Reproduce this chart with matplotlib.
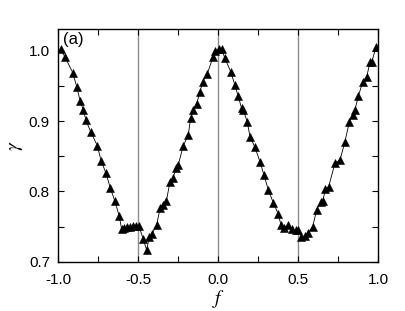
import matplotlib
matplotlib.use("Agg")
import matplotlib.pyplot as plt
from matplotlib.ticker import MultipleLocator

# flux f and gamma
f = [-0.985, -0.958, -0.910, -0.885, -0.864, -0.844, -0.827, -0.798, -0.756,
     -0.733, -0.702, -0.675, -0.646, -0.619, -0.604, -0.589, -0.571, -0.552,
     -0.533, -0.514, -0.496, -0.469, -0.448, -0.431, -0.414, -0.386, -0.364,
     -0.347, -0.324, -0.302, -0.283, -0.264, -0.250, -0.219, -0.188, -0.173,
     -0.156, -0.135, -0.114, -0.098, -0.069, -0.033, -0.021, 0.006, 0.021,
     0.042, 0.078, 0.104, 0.125, 0.146, 0.156, 0.181, 0.198, 0.229, 0.261,
     0.286, 0.313, 0.344, 0.375, 0.392, 0.412, 0.435, 0.460, 0.487, 0.500,
     0.520, 0.545, 0.560, 0.590, 0.615, 0.640, 0.653, 0.670, 0.690, 0.729,
     0.761, 0.792, 0.819, 0.840, 0.854, 0.875, 0.903, 0.928, 0.948, 0.959,
     0.986]
gamma = [1.002, 0.991, 0.969, 0.949, 0.929, 0.916, 0.901, 0.885, 0.865,
         0.844, 0.826, 0.805, 0.786, 0.765, 0.746, 0.748, 0.750, 0.750,
         0.751, 0.751, 0.751, 0.732, 0.717, 0.735, 0.740, 0.752, 0.776,
         0.781, 0.787, 0.814, 0.819, 0.833, 0.838, 0.865, 0.880, 0.904,
         0.916, 0.925, 0.942, 0.956, 0.967, 0.991, 1.000, 1.002, 1.002,
         0.989, 0.970, 0.951, 0.935, 0.918, 0.916, 0.899, 0.878, 0.863, 0.842,
         0.823, 0.802, 0.784, 0.768, 0.752, 0.748, 0.752, 0.746, 0.745, 0.745,
         0.736, 0.737, 0.741, 0.750, 0.774, 0.785, 0.787, 0.803, 0.807, 0.840,
         0.845, 0.871, 0.899, 0.909, 0.916, 0.935, 0.956, 0.963, 0.984, 0.984,
         1.005]
vlines = [-0.5, 0.0, 0.5]

plt.rcParams["font.family"] = ["Liberation Sans", "DejaVu Sans"]
plt.rcParams["mathtext.fontset"] = "stix"

fig = plt.figure(figsize=(4.05, 3.11), dpi=100)
ax = fig.add_axes([0.144, 0.158, 0.790, 0.749])

for v in vlines:
    ax.axvline(v, color="#8c8c8c", lw=1.0, zorder=1)

ax.plot(f, gamma, color="black", lw=0.6, marker="^", ms=5.2,
        markeredgewidth=0.4, zorder=3)

ax.set_xlim(-1.0, 1.0)
ax.set_ylim(0.7, 1.031)
ax.xaxis.set_minor_locator(MultipleLocator(0.25))
ax.yaxis.set_minor_locator(MultipleLocator(0.05))
ax.set_xticks([-1.0, -0.5, 0.0, 0.5, 1.0])
ax.set_xticklabels(["-1.0", "-0.5", "0.0", "0.5", "1.0"])
ax.set_yticks([0.7, 0.8, 0.9, 1.0])
ax.set_yticklabels(["0.7", "0.8", "0.9", "1.0"])
ax.tick_params(which="both", direction="in", top=True, right=True,
               labelsize=11, width=0.8)
ax.tick_params(which="major", length=4.5)
ax.tick_params(which="minor", length=4.0)
ax.tick_params(axis="x", which="major", pad=8)
ax.tick_params(axis="y", which="major", pad=6)
for s in ax.spines.values():
    s.set_linewidth(1.0)

ax.set_xlabel("$f$", fontsize=14, labelpad=1)
ax.set_ylabel(r"$\gamma$", fontsize=14, labelpad=3, rotation=90)
ax.text(0.015, 0.985, "(a)", transform=ax.transAxes, fontsize=12,
        ha="left", va="top")

fig.savefig("out.png", dpi=100)
